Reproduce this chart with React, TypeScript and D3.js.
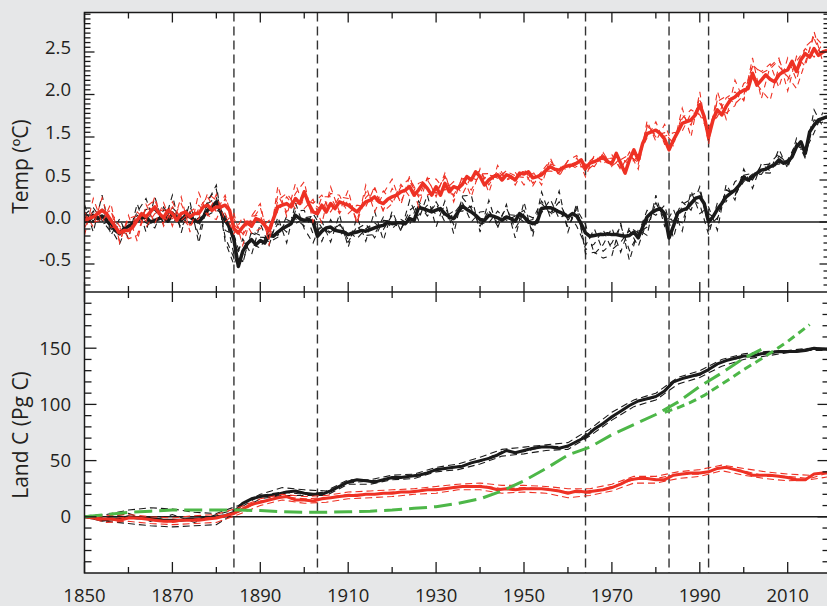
import React from "react";
import * as d3 from "d3";

// ---------- DATA ----------
const tempYears = d3.range(1850, 2020);
const tempBlack = [
  0.06, 0.02, 0.08, 0.04, 0.07, 0.02, -0.04, -0.1, -0.14, -0.08,
  -0.05, -0.02, 0.02, 0.05, 0.06, 0.0, 0.02, 0.04, 0.06, 0.01,
  0.1, 0.05, 0.02, 0.08, 0.06, 0.02, 0.0, 0.06, 0.14, 0.18,
  0.24, 0.12, 0.02, -0.06, -0.21, -0.53, -0.35, -0.26, -0.21, -0.27,
  -0.22, -0.25, -0.16, -0.17, -0.12, -0.08, -0.05, -0.02, 0.08, 0.04,
  0.02, 0.03, 0.0, -0.17, -0.11, -0.07, -0.06, -0.1, -0.11, -0.12,
  -0.15, -0.13, -0.12, -0.1, -0.11, -0.09, -0.07, -0.05, -0.04, 0.0,
  -0.02, -0.01, -0.01, -0.02, 0.04, 0.02, 0.17, 0.16, 0.14, 0.12,
  0.14, 0.16, 0.1, 0.06, 0.04, 0.12, 0.19, 0.15, 0.12, 0.08,
  0.03, 0.02, 0.08, 0.07, 0.05, 0.02, 0.06, 0.04, 0.01, 0.1,
  0.06, 0.0, -0.02, 0.0, 0.16, 0.17, 0.17, 0.15, 0.12, 0.1,
  0.06, 0.1, 0.07, -0.02, -0.13, -0.17, -0.16, -0.15, -0.15, -0.14,
  -0.15, -0.15, -0.16, -0.17, -0.16, -0.12, -0.19, -0.06, 0.06, 0.11,
  0.14, 0.16, 0.1, -0.19, -0.05, 0.11, 0.14, 0.16, 0.22, 0.28,
  0.3, 0.22, 0.0, 0.06, 0.15, 0.22, 0.3, 0.34, 0.38, 0.44,
  0.56, 0.5, 0.58, 0.66, 0.73, 0.75, 0.81, 0.85, 0.97, 0.89,
  0.92, 1.04, 1.27, 1.39, 1.12, 1.56, 1.64, 1.7, 1.72, 1.74,
];
const tempRed = [
  0.02, 0.04, 0.06, 0.1, 0.14, 0.1, 0.02, -0.06, -0.13, -0.1,
  -0.1, -0.06, 0.02, 0.1, 0.06, 0.12, 0.18, 0.1, 0.05, 0.14,
  0.1, 0.02, 0.1, 0.12, 0.06, 0.1, 0.1, 0.18, 0.2, 0.14,
  0.18, 0.18, 0.2, 0.14, -0.08, -0.13, -0.06, 0.0, -0.05, 0.04,
  0.02, -0.04, -0.1, 0.04, 0.18, 0.2, 0.22, 0.18, 0.28, 0.22,
  0.36, 0.22, 0.12, 0.1, 0.2, 0.12, 0.22, 0.16, 0.24, 0.22,
  0.2, 0.16, 0.12, 0.18, 0.24, 0.26, 0.3, 0.24, 0.22, 0.27,
  0.3, 0.32, 0.36, 0.38, 0.42, 0.32, 0.38, 0.46, 0.4, 0.32,
  0.42, 0.32, 0.46, 0.36, 0.42, 0.4, 0.45, 0.58, 0.5, 0.69,
  0.58, 0.44, 0.5, 0.58, 0.62, 0.5, 0.62, 0.58, 0.5, 0.66,
  0.64, 0.69, 0.55, 0.58, 0.62, 0.73, 0.81, 0.75, 0.73, 0.8,
  0.83, 0.85, 0.89, 0.97, 0.77, 0.89, 0.93, 0.97, 1.04, 0.92,
  0.89, 1.12, 0.89, 0.66, 0.97, 1.2, 0.97, 1.35, 1.54, 1.56,
  1.58, 1.54, 1.45, 1.2, 1.43, 1.56, 1.66, 1.68, 1.7, 1.76,
  1.88, 1.74, 1.5, 1.7, 1.82, 1.76, 1.86, 1.94, 1.97, 2.02,
  2.05, 2.07, 2.25, 2.11, 2.17, 2.23, 2.18, 2.15, 2.23, 2.27,
  2.29, 2.39, 2.27, 2.41, 2.48, 2.44, 2.54, 2.46, 2.5, 2.52,
];

// ensemble members of the temperature panel: departures from the mean (hundredths of ºC), every 2 years
const tempMemberYears = d3.range(1850, 2019, 2);
const tempBlackDevA = [
  -8, 5, -10, 6, 4, -6, 10, 22, -5, 8, 3, -9, 6, -15, 12, 15, -20, -22, -12, 8,
  4, -3, 10, -7, 5, 12, -14, 5, -8, 10, -6, 4, 9, -12, 6, 3, -8, 10, 5, -7,
  8, -10, 6, 4, -12, 9, 5, -6, 11, -9, 4, 7, -5, 10, -8, 6, -12, -15, 8, -20,
  -10, 12, -18, 5, 8, -6, 10, -14, 7, 5, -9, -15, 8, -6, 10, 4, -8, 12, 6, -10,
  5, 9, -7, 4, -5,
];
const tempBlackDevB = [
  6, -7, 8, -4, -12, 5, -3, 9, 12, -6, 7, 4, -8, 5, -6, -10, 8, -18, 10, -5,
  -9, 6, -4, 8, -10, 3, 7, -12, 9, -4, 5, -8, 3, 6, -5, 10, -7, 4, -9, 6,
  -5, 8, -7, 10, 4, -8, 6, -10, 3, 7, -6, 5, 9, -8, 4, -12, 10, -20, -10, 6,
  -18, -8, 6, -10, -5, 9, -6, 8, -15, 10, 6, 10, -12, 9, -7, 5, 8, -6, -15, 9,
  -6, 8, 6, -9, 7,
];
const tempBlackDevC = [
  3, 9, -5, -8, 10, -4, 6, -7, -9, 12, -10, 6, 12, -5, 8, 5, -12, 6, -14, 10,
  6, -8, -6, 12, -4, -7, 10, 4, -6, 8, -9, 7, -5, -8, 10, -6, 4, -7, 8, -5,
  10, -4, 9, -6, 7, -5, -9, 8, -4, 6, 8, -9, 6, -6, 12, -4, 8, 10, -22, -12,
  8, -20, 10, 6, -12, 8, -5, 6, 10, -8, 12, -6, -10, 8, -5, -8, 6, -10, 9, 14,
  -8, -6, 10, 6, -4,
];
const tempBlackDevD = [
  15, -20, 25, -12, 18, -15, 20, -18, 28, -10, 22, -15, 18, -25, 10, 20, -25, -30, 15, -18,
  20, -12, 18, -20, 15, -10, -25, 12, -18, 20, -15, 18, -12, 20, -18, 15, -10, 22, -15, 18,
  -20, 15, -18, 12, 20, -15, 18, -12, 15, -20, 18, -15, 20, -12, 25, -18, 15, -25, -20, -28,
  -25, 15, -30, 10, -22, 18, -15, 20, -25, 15, -20, 18, -25, 15, -12, 20, -18, 15, -10, 25,
  -15, 20, -12, 18, -10,
];
const tempRedDevA = [
  10, -12, 15, -8, 6, -10, -18, 12, 8, -6, 14, -8, 6, 10, -12, -15, 8, 12, -10, 6,
  15, -8, 14, -10, 6, 12, -12, 10, 8, -14, 6, -10, 12, -8, 15, -6, 9, -12, 8, 10,
  -8, 14, -10, 8, -12, 6, 15, -8, 10, -6, 12, -9, 8, 14, -10, 6, -12, 8, 10, -7,
  12, -10, 8, -6, 10, -8, 6, 12, -9, 8, -10, 12, -8, 10, 6, -12, 8, 10, 18, -15,
  14, -10, 8, 12, -8,
];
const tempRedDevB = [
  -9, 8, -6, 12, -10, 14, 6, -12, -8, 10, -6, 12, -10, -6, 14, 8, -10, -6, 12, -8,
  -10, 12, -6, 8, -12, -8, 10, -6, 12, 8, -10, 8, -6, 12, -8, 10, -12, 6, -8, 14,
  10, -8, 6, -12, 8, 14, -6, 10, -12, 8, -8, 10, -12, 6, 8, -10, 12, -8, -6, 10,
  -8, 12, -10, 8, -6, 10, -12, -8, 10, -6, 8, -10, 12, -8, -10, 8, -6, -12, -25, 10,
  -8, -20, -10, 15, 8,
];
const tempRedDevC = [
  5, -6, -12, 10, 8, -8, 10, -5, 12, -10, 8, -5, -12, 6, 10, -6, 12, 5, -8, 12,
  6, -10, 8, 12, -8, -5, 10, 12, -10, 6, 8, -12, 5, 10, -10, -8, 6, 12, -6, -8,
  -6, 10, -12, 8, 6, -10, 12, -6, 8, 10, 6, -12, 8, -10, -6, 12, -8, 10, -12, 8,
  -6, 8, 12, -10, 8, -6, 10, -8, 6, 12, -12, 6, 10, 12, -8, -6, 10, 8, 12, 18,
  -12, 12, 6, -10, 10,
];
const tempRedDevD = [
  -18, 22, -15, 20, -12, 18, -25, 15, -20, 18, -15, 20, -18, 25, -12, 15, -20, 18, -22, 12,
  20, -18, 25, -15, 18, -20, 15, -22, 20, -12, 18, -15, 20, -18, 12, 22, -15, 18, -20, 15,
  -12, 20, -18, 15, -20, 18, -15, 22, -12, 18, -20, 15, -18, 20, -15, 12, 18, -20, 15, -18,
  20, -15, 18, -22, 15, -18, 20, -15, 18, -20, 15, -18, 22, -15, 20, -12, 18, -22, 15, 20,
  -25, 18, -15, 20, -12,
];

// land carbon (Pg C), every 2 years
const landYears = d3.range(1850, 2021, 2);
const landBlack = [
  0, -1, -3, -2, -2, 0, -1, -1, -2, -3,
  -3, -3, -2, -2, -1, 0, 1, 4, 12, 16,
  18, 19, 20, 22, 23, 21, 20, 20, 23, 27,
  31, 33, 32, 31, 33, 35, 35, 36, 37, 39,
  42, 43, 44, 45, 48, 50, 52, 55, 59, 57,
  59, 61, 62, 62, 61, 63, 67, 71, 78, 83,
  89, 94, 99, 103, 105, 107, 112, 120, 123, 125,
  127, 131, 136, 139, 141, 143, 143, 145, 146, 147,
  147, 147, 148, 150, 149, 149,
];
const landRed = [
  0, -1, -2, -2, -3, -1, -1, -2, -3, -4,
  -4, -3, -3, -3, -2, -1, 1, 3, 7, 11,
  13, 15, 17, 18, 15, 15, 14, 16, 17, 18,
  19, 19, 20, 20, 21, 21, 22, 22, 23, 24,
  24, 25, 26, 27, 27, 27, 26, 24, 25, 24,
  25, 25, 25, 24, 23, 21, 23, 22, 23, 24,
  26, 29, 33, 34, 34, 33, 33, 37, 38, 39,
  39, 40, 43, 44, 42, 40, 37, 37, 37, 36,
  35, 33, 33, 38, 39, 39,
];
// land carbon ensemble members, every 5 years
const landMemberYears = d3.range(1850, 2021, 5);
const landBlackMemberA = [1, 2, 6, 8, 7, 4, 3, 10, 20, 26, 24, 23, 33, 33, 37, 38, 44, 47, 53, 60, 62, 64, 66, 78, 93, 104, 110, 124, 130, 140, 145, 147, 148, 150, 150];
const landBlackMemberB = [0, -4, -6, -8, -9, -8, -7, 5, 16, 19, 19, 19, 29, 29, 33, 34, 40, 42, 47, 54, 56, 59, 60, 72, 86, 98, 104, 118, 124, 134, 140, 143, 146, 148, 148];
const landBlackMemberC = [0, -1, 3, -4, 2, -5, 2, 7, 19, 22, 20, 22, 30, 32, 34, 37, 41, 45, 49, 58, 58, 63, 62, 76, 88, 102, 106, 122, 126, 138, 142, 146, 146, 150, 149];
const landRedMemberA = [0, 1, 2, 0, -1, 1, 2, 8, 16, 20, 18, 19, 22, 23, 24, 25, 27, 29, 30, 28, 28, 27, 25, 25, 29, 36, 36, 40, 42, 46, 43, 40, 38, 37, 41];
const landRedMemberB = [0, -5, -4, -6, -7, -6, -5, 2, 10, 15, 12, 13, 16, 17, 18, 20, 21, 24, 24, 21, 22, 21, 17, 19, 23, 30, 30, 34, 36, 41, 37, 34, 32, 33, 36];
const landRedMemberC = [0, -2, 0, -3, -5, -2, 0, 4, 14, 18, 16, 17, 20, 20, 22, 22, 25, 26, 28, 25, 26, 25, 22, 21, 27, 33, 34, 38, 38, 44, 41, 36, 36, 34, 40];

// green dashed curves
const greenLongYears = [1850, 1855, 1860, 1865, 1870, 1875, 1880, 1885, 1890, 1895, 1900, 1905, 1910, 1915, 1920, 1925, 1930, 1935, 1940, 1945, 1950, 1955, 1960, 1965, 1970, 1975, 1980, 1985, 1990, 1995, 2000, 2004];
const greenLongValues = [0, 2, 4, 5, 6, 6, 6, 6, 5.5, 4.5, 4, 4, 4.5, 5, 6, 7.5, 9, 12, 16, 23, 32, 43, 55, 62, 73, 82, 91, 102, 116, 128, 141, 149];
const greenShortYears = [1982, 1985, 1988, 1991, 1995, 2000, 2005, 2010, 2015];
const greenShortValues = [93, 97, 102, 108, 118, 131, 143, 156, 171];

const eruptionYears = [1884, 1903, 1964, 1983, 1992];
const xTickYears = d3.range(1850, 2021, 10);
const xLabelYears = [1850, 1870, 1890, 1910, 1930, 1950, 1970, 1990, 2010];
const tempTickValues = [-0.5, 0, 0.5, 1.5, 2.0, 2.5];
const tempTickLabels = ["-0.5", "0.0", "0.5", "1.5", "2.0", "2.5"];
const landTickValues = [0, 50, 100, 150];
const landTickLabels = ["0", "50", "100", "150"];

// ---------- STYLE ----------
const BG = "#e6e7e8";
const RED = "#ee3124";
const BLACK = "#1a1a1a";
const GREEN = "#4db748";
const FONT = "'Open Sans', sans-serif";

const L = 84.5, R = 829.5, T = 12.5, MID = 292, B = 573;

export default function App() {
  const x = d3.scaleLinear().domain([1850, 2020]).range([L, L + 170 * 4.395]);
  const yT = d3.scaleLinear().domain(tempTickValues).range([264, 222, 180, 137, 94.5, 52]);
  const yB = d3.scaleLinear().domain([-50, 200]).range([B, MID]);

  const lineT = d3.line<[number, number]>().x((d) => x(d[0])).y((d) => yT(d[1]));
  const lineB = d3.line<[number, number]>().x((d) => x(d[0])).y((d) => yB(d[1]));

  const tempSeries = (vals: number[]) => tempYears.map((yr, i) => [yr, vals[i]] as [number, number]);
  const tempMember = (mean: number[], dev: number[]) =>
    tempMemberYears.map((yr, i) => [yr, mean[yr - 1850] + dev[i] / 100] as [number, number]);
  const pairs = (xs: number[], vs: number[]) => xs.map((yr, i) => [yr, vs[i]] as [number, number]);

  const segs: [number, number, number][] = [
    [-1, -0.5, 6], [-0.5, 0, 6], [0, 0.5, 6], [0.5, 1.5, 6], [1.5, 2, 9], [2, 2.5, 9], [2.5, 3, 9],
  ];
  const tempMinor = segs
    .flatMap(([a, b, n]) => d3.range(1, n).map((k) => a + ((b - a) * k) / n))
    .filter((v) => yT(v) > T + 1 && yT(v) < MID - 1);
  const landMinor = d3.range(-40, 200, 10).filter((v) => v % 50 !== 0);

  const tickStroke = { stroke: BLACK, strokeWidth: 1.3 };

  const yTicks = (ys: number[], len: number, key: string) =>
    ys.map((yy, i) => (
      <g key={key + i}>
        <line x1={L} x2={L + len} y1={yy} y2={yy} {...tickStroke} />
        <line x1={R} x2={R - len} y1={yy} y2={yy} {...tickStroke} />
      </g>
    ));

  const textStyle = { fontFamily: FONT, fontSize: 18.5, fill: "#231f20" };

  return (
    <svg width={827} height={606} style={{ position: "absolute", left: 0, top: 0 }}>
      <rect x={0} y={0} width={827} height={606} fill={BG} />
      <rect x={L} y={T} width={R - L} height={B - T} fill="#fff" />
      <defs>
        <clipPath id="clipTop">
          <rect x={L} y={T} width={R - L} height={MID - T} />
        </clipPath>
        <clipPath id="clipBot">
          <rect x={L} y={MID} width={R - L} height={B - MID} />
        </clipPath>
      </defs>

      <line x1={L} x2={R} y1={yT(0)} y2={yT(0)} stroke={BLACK} strokeWidth={1.5} />
      <line x1={L} x2={R} y1={yB(0)} y2={yB(0)} stroke={BLACK} strokeWidth={1.5} />

      {eruptionYears.map((yr) => (
        <line key={"e" + yr} x1={x(yr)} x2={x(yr)} y1={T} y2={B} stroke="#333" strokeWidth={1.4} strokeDasharray="9,5" />
      ))}

      <g clipPath="url(#clipTop)" fill="none">
        {[tempBlackDevA, tempBlackDevB, tempBlackDevC, tempBlackDevD].map((dev, i) => (
          <path key={"tkm" + i} d={lineT(tempMember(tempBlack, dev)) || ""} stroke={BLACK} strokeWidth={1.1} strokeDasharray="6,5" />
        ))}
        <path d={lineT(tempSeries(tempBlack)) || ""} stroke={BLACK} strokeWidth={3.5} strokeLinejoin="round" />
        {[tempRedDevA, tempRedDevB, tempRedDevC, tempRedDevD].map((dev, i) => (
          <path key={"trm" + i} d={lineT(tempMember(tempRed, dev)) || ""} stroke={RED} strokeWidth={1.1} strokeDasharray="6,5" />
        ))}
        <path d={lineT(tempSeries(tempRed)) || ""} stroke={RED} strokeWidth={3.5} strokeLinejoin="round" />
      </g>

      <g clipPath="url(#clipBot)" fill="none">
        {[landBlackMemberA, landBlackMemberB, landBlackMemberC].map((m, i) => (
          <path key={"lkm" + i} d={lineB(pairs(landMemberYears, m)) || ""} stroke={BLACK} strokeWidth={1.1} strokeDasharray="7,4" />
        ))}
        <path d={lineB(pairs(landYears, landBlack)) || ""} stroke={BLACK} strokeWidth={3} strokeLinejoin="round" />
        {[landRedMemberA, landRedMemberB, landRedMemberC].map((m, i) => (
          <path key={"lrm" + i} d={lineB(pairs(landMemberYears, m)) || ""} stroke={RED} strokeWidth={1.1} strokeDasharray="7,4" />
        ))}
        <path d={lineB(pairs(landYears, landRed)) || ""} stroke={RED} strokeWidth={3} strokeLinejoin="round" />
        <path d={lineB(pairs(greenLongYears, greenLongValues)) || ""} stroke={GREEN} strokeWidth={3} strokeDasharray="18,7" />
        <path d={lineB(pairs(greenShortYears, greenShortValues)) || ""} stroke={GREEN} strokeWidth={3} strokeDasharray="8,5" />
      </g>

      <rect x={L} y={T} width={R - L} height={B - T} fill="none" stroke={BLACK} strokeWidth={1.5} />
      <line x1={L} x2={R} y1={MID} y2={MID} stroke={BLACK} strokeWidth={1.5} />

      {xTickYears.map((yr) => {
        const major = (yr - 1850) % 20 === 0;
        const len = major ? 10 : 6;
        const xx = x(yr);
        return (
          <g key={"xt" + yr}>
            <line x1={xx} x2={xx} y1={T} y2={T + len} {...tickStroke} />
            <line x1={xx} x2={xx} y1={MID - len} y2={MID + len} {...tickStroke} />
            <line x1={xx} x2={xx} y1={B} y2={B - (major ? 11 : 6)} {...tickStroke} />
          </g>
        );
      })}

      {yTicks(tempMinor.map((v) => yT(v)), 6, "tmin")}
      {yTicks(tempTickValues.map((v) => yT(v)), 10, "tmaj")}
      {yTicks(landMinor.map((v) => yB(v)), 7, "lmin")}
      {yTicks(landTickValues.map((v) => yB(v)), 12, "lmaj")}

      {tempTickValues.map((v, i) => (
        <text key={"tl" + i} x={71} y={yT(v) - 5 + 6.6} textAnchor="end" style={textStyle}>
          {tempTickLabels[i]}
        </text>
      ))}
      {landTickValues.map((v, i) => (
        <text key={"ll" + i} x={71} y={yB(v) + 6.6} textAnchor="end" style={textStyle}>
          {landTickLabels[i]}
        </text>
      ))}

      {xLabelYears.map((yr) => (
        <text key={"xl" + yr} x={x(yr)} y={601.6} textAnchor="middle" style={textStyle}>
          {String(yr)}
        </text>
      ))}

      <text transform="translate(28,166.5) rotate(-90)" textAnchor="middle" style={{ ...textStyle, fontSize: 21 }}>
        Temp (ºC)
      </text>
      <text transform="translate(28,435) rotate(-90)" textAnchor="middle" style={{ ...textStyle, fontSize: 21 }}>
        Land C (Pg C)
      </text>
    </svg>
  );
}
